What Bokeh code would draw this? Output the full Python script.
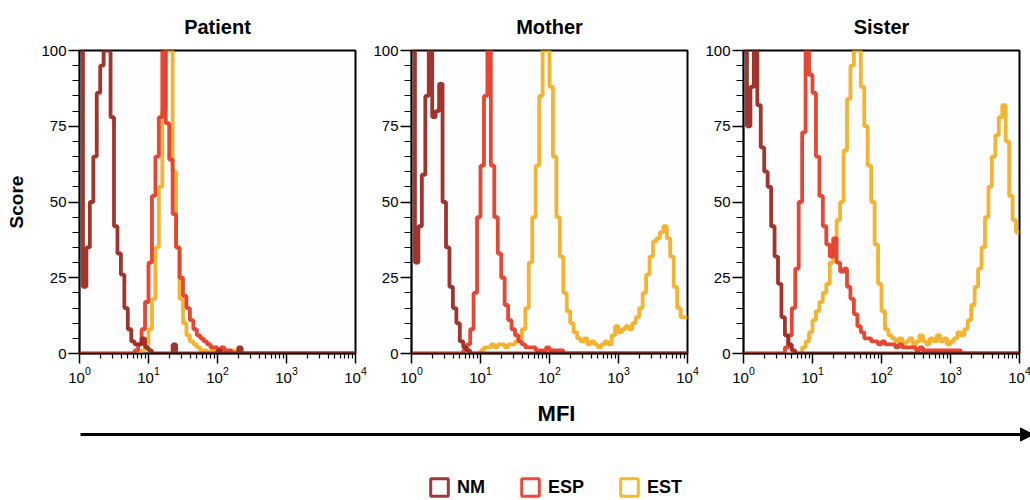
import numpy as np
from bokeh.plotting import figure
from bokeh.layouts import row, column
from bokeh.models import (Range1d, FixedTicker, Legend, LegendItem, Arrow,
                          NormalHead, Label)
from bokeh.embed import file_html
from bokeh.resources import INLINE

# ---------------- data ----------------
PANELS = ["Patient", "Mother", "Sister"]
SERIES = ["NM", "ESP", "EST"]
LINE_COLORS = {"NM": "#9C2A22", "ESP": "#E43D2A", "EST": "#F3AF26"}
LEGEND_COLORS = {"NM": "#9E3B36", "ESP": "#EC4A3C", "EST": "#F7B92C"}

Y_TICKS = [0, 25, 50, 75, 100]
X_TICKS = [1, 10, 100, 1000, 10000]

# histogram channels: 80 channels of 0.05 decade from 10^0 to 10^4
N_CHANNELS = 80
MFI_EDGES = 10 ** np.linspace(0, 4, N_CHANNELS + 1)

PATIENT_NM = [
    100, 22, 35, 50, 65, 86, 95, 100, 100, 78, 42, 33, 26, 15, 8, 4, 3, 3, 5, 2,
    1, 0, 0, 0, 0, 0, 0, 3, 0, 0, 0, 0, 0, 0, 0, 0, 0, 0, 0, 0,
    1, 0, 0, 0, 0, 0, 2, 0, 0, 0, 0, 0, 0, 0, 0, 0, 0, 0, 0, 0,
    0, 0, 0, 0, 0, 0, 0, 0, 0, 0, 0, 0, 0, 0, 0, 0, 0, 0, 0, 0,
]
PATIENT_ESP = [
    0, 0, 0, 0, 0, 0, 0, 0, 0, 0, 0, 0, 0, 0, 0, 0, 1, 3, 8, 17,
    30, 52, 65, 78, 100, 76, 64, 46, 35, 25, 19, 15, 11, 8, 6, 5, 4, 3, 2, 2,
    1, 2, 1, 1, 0, 0, 0, 0, 0, 0, 0, 0, 0, 0, 0, 0, 0, 0, 0, 0,
    0, 0, 0, 0, 0, 0, 0, 0, 0, 0, 0, 0, 0, 0, 0, 0, 0, 0, 0, 0,
]
PATIENT_EST = [
    0, 0, 0, 0, 0, 0, 0, 0, 0, 0, 0, 0, 0, 0, 0, 0, 0, 0, 1, 3,
    8, 18, 35, 55, 80, 100, 100, 60, 35, 18, 10, 6, 4, 3, 2, 1, 1, 0, 1, 0,
    0, 0, 0, 0, 1, 0, 0, 0, 0, 0, 0, 0, 0, 0, 0, 0, 0, 0, 0, 0,
    0, 0, 0, 0, 0, 0, 0, 0, 0, 0, 0, 0, 0, 0, 0, 0, 0, 0, 0, 0,
]

MOTHER_NM = [
    100, 30, 42, 59, 85, 100, 78, 80, 89, 50, 35, 22, 15, 10, 4, 2, 1, 0, 0, 0,
    0, 0, 0, 0, 0, 0, 0, 0, 0, 0, 0, 0, 0, 0, 0, 0, 0, 0, 0, 0,
    0, 0, 0, 0, 0, 0, 0, 0, 0, 0, 0, 0, 0, 0, 0, 0, 0, 0, 0, 0,
    0, 0, 0, 0, 0, 0, 0, 0, 0, 0, 0, 0, 0, 0, 0, 0, 0, 0, 0, 0,
]
MOTHER_ESP = [
    0, 0, 0, 0, 0, 0, 0, 0, 0, 0, 0, 0, 0, 0, 0, 1, 3, 8, 20, 45,
    62, 85, 100, 62, 45, 33, 25, 16, 11, 8, 6, 4, 3, 2, 2, 2, 1, 1, 1, 2,
    1, 1, 1, 1, 0, 0, 0, 0, 0, 0, 0, 0, 0, 0, 0, 0, 0, 0, 0, 0,
    0, 0, 0, 0, 0, 0, 0, 0, 0, 0, 0, 0, 0, 0, 0, 0, 0, 0, 0, 0,
]
MOTHER_EST = [
    0, 0, 0, 0, 0, 0, 0, 0, 0, 0, 0, 0, 0, 0, 0, 0, 0, 0, 0, 0,
    1, 2, 2, 3, 2, 3, 3, 2, 3, 3, 4, 5, 8, 15, 30, 45, 62, 85, 100, 100,
    88, 65, 45, 32, 20, 14, 10, 7, 5, 4, 5, 3, 4, 3, 2, 3, 4, 3, 6, 9,
    7, 8, 9, 8, 10, 12, 15, 20, 26, 32, 37, 38, 40, 42, 38, 32, 22, 15, 12, 12,
]

SISTER_NM = [
    100, 75, 88, 100, 82, 68, 60, 55, 42, 32, 23, 12, 6, 3, 1, 0, 0, 0, 0, 0,
    0, 0, 0, 0, 0, 0, 0, 0, 0, 0, 0, 0, 0, 0, 0, 0, 0, 0, 0, 0,
    0, 0, 0, 0, 0, 0, 0, 0, 0, 0, 0, 0, 0, 0, 0, 0, 0, 0, 0, 0,
    0, 0, 0, 0, 0, 0, 0, 0, 0, 0, 0, 0, 0, 0, 0, 0, 0, 0, 0, 0,
]
SISTER_ESP = [
    0, 0, 0, 0, 0, 0, 0, 0, 0, 0, 0, 0, 2, 6, 15, 28, 50, 73, 100, 92,
    86, 65, 52, 42, 36, 32, 38, 30, 27, 28, 22, 18, 13, 9, 7, 5, 5, 4, 4, 3,
    4, 3, 3, 3, 2, 3, 2, 2, 2, 2, 1, 2, 1, 1, 1, 1, 1, 1, 1, 1,
    1, 1, 1, 0, 0, 0, 0, 0, 0, 0, 0, 0, 0, 0, 0, 0, 0, 0, 0, 0,
]
SISTER_EST = [
    0, 0, 0, 0, 0, 0, 0, 0, 0, 0, 0, 0, 0, 0, 0, 0, 0, 2, 4, 7,
    11, 14, 17, 20, 23, 30, 37, 44, 50, 67, 84, 95, 100, 100, 88, 75, 62, 50, 36, 23,
    14, 8, 6, 5, 4, 5, 3, 4, 5, 3, 4, 6, 4, 3, 5, 4, 6, 4, 5, 3,
    4, 5, 7, 6, 8, 11, 16, 22, 28, 35, 45, 55, 65, 72, 78, 82, 70, 52, 44, 40,
]

DATA = {
    "Patient": {"NM": PATIENT_NM, "ESP": PATIENT_ESP, "EST": PATIENT_EST},
    "Mother": {"NM": MOTHER_NM, "ESP": MOTHER_ESP, "EST": MOTHER_EST},
    "Sister": {"NM": SISTER_NM, "ESP": SISTER_ESP, "EST": SISTER_EST},
}

FONT = "Liberation Sans"
FRAME_W, FRAME_H = 276, 303


def make_panel(name, first, border_left, border_right):
    p = figure(frame_width=FRAME_W, frame_height=FRAME_H, x_axis_type="log",
               x_range=Range1d(1, 10000), y_range=Range1d(0, 100),
               output_backend="svg", toolbar_location=None,
               min_border_left=border_left, min_border_right=border_right,
               min_border_top=50, min_border_bottom=38, title=name)
    p.title.align = "center"
    p.title.text_font = FONT
    p.title.text_font_size = "20px"
    p.title.text_font_style = "bold"
    p.title.text_color = "black"
    p.title.standoff = 26

    # draw EST, ESP, NM (NM on top)
    for s in ["EST", "ESP", "NM"]:
        vals = list(DATA[name][s])
        p.step(x=list(MFI_EDGES), y=vals + [vals[-1]], mode="after",
               line_color=LINE_COLORS[s], line_width=3.8, line_alpha=0.95)

    p.xgrid.visible = False
    p.ygrid.visible = False
    p.outline_line_color = "black"
    p.outline_line_width = 2
    p.outline_line_alpha = 1.0
    p.background_fill_color = "#FEFEFE"

    p.xaxis.ticker = FixedTicker(
        ticks=X_TICKS,
        minor_ticks=[m * 10 ** d for d in range(4) for m in range(2, 10)])
    p.yaxis.ticker = FixedTicker(ticks=Y_TICKS, minor_ticks=list(range(0, 101, 5)))

    for ax in (p.xaxis[0], p.yaxis[0]):
        ax.axis_line_color = "black"
        ax.axis_line_width = 1.5
        ax.major_tick_line_color = "black"
        ax.minor_tick_line_color = "black"
        ax.major_tick_line_width = 1.5
        ax.minor_tick_line_width = 1.2
        ax.major_tick_in = 0
        ax.minor_tick_in = 0
        ax.major_label_text_font = FONT
        ax.major_label_text_font_size = "15px"
        ax.major_label_text_color = "black"
    p.xaxis.major_tick_out = 10
    p.xaxis.minor_tick_out = 5
    p.xaxis.major_label_standoff = 3
    p.yaxis.major_tick_out = 11
    p.yaxis.minor_tick_out = 7
    p.yaxis.major_label_standoff = 2
    if first:
        p.yaxis.axis_label = "Score"
        p.yaxis.axis_label_text_font = FONT
        p.yaxis.axis_label_text_font_size = "19px"
        p.yaxis.axis_label_text_font_style = "bold"
        p.yaxis.axis_label_text_color = "black"
        p.yaxis.axis_label_standoff = 11
    return p


p1 = make_panel("Patient", True, 79, 15)
p2 = make_panel("Mother", False, 39, 15)
p3 = make_panel("Sister", False, 39, 16)

# bottom strip: MFI label, arrow, legend
BOTTOM_W = 1030
BOTTOM_H = 109
b = figure(width=BOTTOM_W, height=BOTTOM_H, x_range=Range1d(0, BOTTOM_W),
           y_range=Range1d(0, BOTTOM_H),
           output_backend="svg", toolbar_location=None, min_border=0,
           x_axis_location=None, y_axis_location=None)
b.grid.visible = False
b.outline_line_color = None

b.add_layout(Label(x=556, y=BOTTOM_H - 22, text="MFI", text_font=FONT, text_font_size="22px",
                   text_font_style="bold", text_color="black",
                   text_align="center", text_baseline="middle"))
b.add_layout(Arrow(end=NormalHead(size=13, fill_color="black", line_color="black"),
                   x_start=80, y_start=BOTTOM_H - 43, x_end=1033, y_end=BOTTOM_H - 43,
                   line_width=3, line_color="black"))

items = []
for s in SERIES:
    # off-screen placeholder renderer, used only for the legend swatch
    r = b.rect(x=[-500], y=[-500], width=1, height=1, fill_alpha=0,
               line_color=LEGEND_COLORS[s], line_width=3)
    items.append(LegendItem(label=s, renderers=[r]))
legend = Legend(items=items, orientation="horizontal", location=(428, 2),
                padding=0, margin=0, spacing=34, label_standoff=7,
                glyph_width=22, glyph_height=22,
                border_line_color=None, background_fill_alpha=0,
                label_text_font=FONT, label_text_font_style="bold",
                label_text_font_size="18px", label_text_color="black")
b.add_layout(legend)

layout = column(row(p1, p2, p3), b)
open("out.html", "w").write(file_html(layout, INLINE))
